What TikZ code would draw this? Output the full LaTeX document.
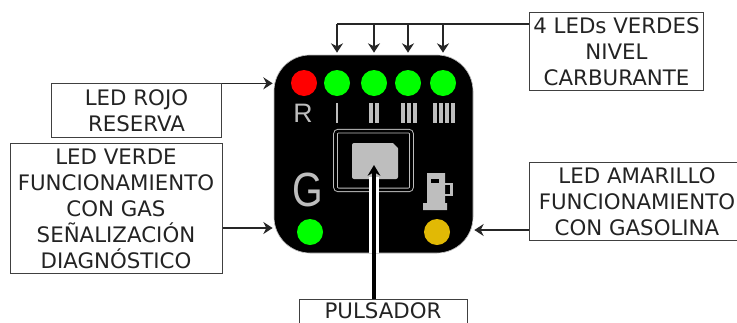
\documentclass[tikz,border=0pt]{standalone}
\usepackage{fontspec}
\setmainfont{DejaVu Sans}
\newfontfamily\panelfont{Liberation Sans}
\usetikzlibrary{positioning,shapes,arrows.meta,calc}
\definecolor{PanelGray}{RGB}{190,190,190}
\definecolor{LedGreen}{RGB}{0,255,0}
\definecolor{LedAmber}{RGB}{225,185,5}
\definecolor{TextDark}{RGB}{35,35,35}

\begin{document}
\begin{tikzpicture}[
    x=0.75pt, y=-0.75pt,
    labelbox/.style={rectangle, draw=black!75, line width=0.75pt, inner sep=0pt, align=center, text=TextDark, font=\fontsize{16}{19.5}\selectfont},
    line/.style={draw, ->, >={Stealth[length=7pt,width=9pt]}, line width=1.1pt, black!85},
    led/.style={circle, minimum size=19.5pt, inner sep=0pt},
    glyph/.style={text=PanelGray, inner sep=0pt}
]
\useasboundingbox (0,0) rectangle (737,322);

% Panel
\node [rectangle, fill=black, draw=PanelGray, line width=0.5pt, rounded corners=27pt, minimum width=149.25pt, minimum height=148.5pt, inner sep=0pt] (panel) at (373.5,154) {};
\node [led, fill=red] (ledr) at (304,83) {};
\node [led, fill=LedGreen] (ledi) at (337,83) {};
\node [led, fill=LedGreen] (ledii) at (374,83) {};
\node [led, fill=LedGreen] (lediii) at (408,83) {};
\node [led, fill=LedGreen] (lediiii) at (443,83) {};
\node [led, fill=LedGreen] (ledgas) at (310,232) {};
\node [led, fill=LedAmber] (ledgasolina) at (437,232) {};

% Marks under the LEDs
\node [glyph, font=\panelfont\fontsize{20}{20}\selectfont] (markr) at (303,113) {R};
\node [glyph, font=\panelfont\fontsize{36}{36}\selectfont, xscale=0.82] (markg) at (308,189.5) {G};
\fill [PanelGray] (336,103) rectangle (338,123);
\foreach \x in {369,375}
    \fill [PanelGray] (\x,103) rectangle ++(4,20);
\foreach \x in {401,407,413}
    \fill [PanelGray] (\x,103) rectangle ++(4,20);
\foreach \x in {433,439,445,451}
    \fill [PanelGray] (\x,103) rectangle ++(4,20);

% Fuel pump
\fill [PanelGray] (427,173) -- (445,173) -- (445,203) -- (447,203) -- (447,210) -- (423,210) -- (423,203) -- (427,203) -- cycle;
\fill [black] (431,179) rectangle (439,183);
\draw [PanelGray, line width=2.2pt] (445,184) -- (451.5,184) -- (451.5,195) -- (445,195);

% Push button
\node [rectangle, draw=PanelGray, double=black, double distance=2pt, line width=0.7pt, rounded corners=2pt, minimum width=57pt, minimum height=44pt, inner sep=0pt] (frame) at (373.5,160.5) {};
\node [rectangle, rounded corners=1.5pt, fill=PanelGray, minimum width=34.5pt, minimum height=27pt, inner sep=0pt] (boton) at (375,161) {};
\fill [black] ($(boton.north east)+(-6,-0.5)$) -- ($(boton.north east)+(0.5,-0.5)$) -- ($(boton.north east)+(0.5,6)$) -- cycle;

% Labels
\node [labelbox, minimum width=127pt, minimum height=40pt] (rojo) at (136.5,110.5) {LED ROJO\\RESERVA};
\node [labelbox, minimum width=159pt, minimum height=97pt] (verde) at (116,208.5) {LED VERDE\\FUNCIONAMIENTO\\CON GAS\\SEÑALIZACIÓN\\DIAGNÓSTICO};
\node [labelbox, minimum width=130pt, minimum height=58pt] (nivel) at (616.5,51.5) {4 LEDs VERDES\\NIVEL\\CARBURANTE};
\node [labelbox, minimum width=162pt, minimum height=58pt] (amarillo) at (637,201.5) {LED AMARILLO\\FUNCIONAMIENTO\\CON GASOLINA};
\node [labelbox, minimum width=126pt, anchor=north, text height=14.25pt, text depth=4pt] (pulsador) at (383,299) {PULSADOR};

% Draw edges
\coordinate (bus) at (337,24);
\coordinate (pulso) at (374,165);
\draw [line] (rojo.north east) -- ($(rojo.north east -| panel.west)+(-1,0)$);
\draw [line] ($(verde.east |- ledgas)+(0,-4)$) -- ($(panel.west |- ledgas)+(-1,-4)$);
\draw [line] ($(amarillo.west |- ledgasolina)+(0,-2)$) -- ($(panel.east |- ledgasolina)+(1,-2)$);
\draw [line width=1.1pt, black!85] (nivel.west |- bus) -- (bus);
\foreach \led in {ledi,ledii,lediii,lediiii}
    \draw [line] (bus -| \led) -- ($(\led |- panel.north)+(0,-2)$);
\draw [white, line width=8pt] (pulso |- panel.south) -- ($(pulso)+(0,12)$);
\draw [line, black, line width=3pt, >={Stealth[length=8pt,width=9.5pt]}] (pulso |- pulsador.north) -- (pulso);
\end{tikzpicture}
\end{document}
